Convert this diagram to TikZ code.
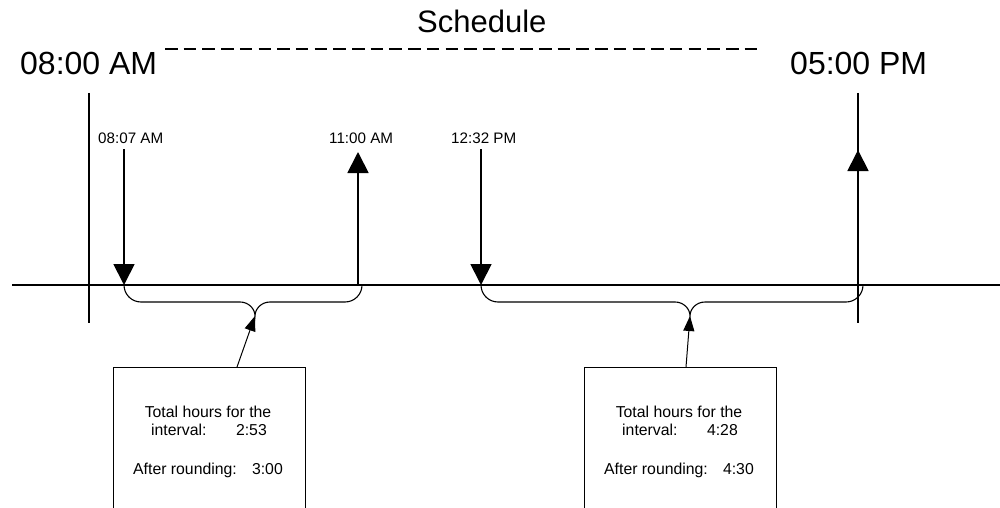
\documentclass[tikz,border=0pt]{standalone}
\usepackage{fontspec}
\setmainfont{Liberation Sans}
\usetikzlibrary{arrows.meta}
\tikzset{
  lbl/.style={inner sep=0pt, anchor=base west, font=\fontsize{15.2}{18}\selectfont},
  big/.style={inner sep=0pt, anchor=base west, font=\fontsize{32}{36}\selectfont},
  boxtxt/.style={inner sep=0pt, font=\fontsize{15.8}{18}\selectfont},
  axis/.style={line width=2.6pt},
  bound/.style={line width=1.8pt},
  tick/.style={line width=1.8pt, -{Triangle[width=21pt,length=21pt]}},
  brace/.style={line width=1.1pt},
  info/.style={line width=1pt, -{Triangle[width=11pt,length=15pt]}},
  infobox/.style={draw, line width=1pt, minimum width=192pt, minimum height=160pt, anchor=north, inner sep=0pt},
  dashline/.style={line width=1.5pt, dash pattern=on 12.5pt off 6.2pt}
}
\begin{document}
\begin{tikzpicture}[x=1pt,y=-1pt]
\useasboundingbox[fill=white] (0,0) rectangle (1000,508);

% title and day limits
\node[big, font=\fontsize{31}{36}\selectfont] (title) at (417,33) {Schedule};
\node[big] (start) at (20,75) {08:00 AM};
\node[big] (end) at (790,75) {05:00 PM};
\coordinate (dl) at (165,49);
\coordinate (dr) at (757,49);
\draw[dashline] (dl) -- (dr);

% axis
\coordinate (axl) at (12,285);
\coordinate (axr) at (1000,285);
\draw[axis] (axl) -- (axr);

% day boundary lines
\coordinate (b1t) at (89,93);
\coordinate (b1b) at (89,323);
\coordinate (b2t) at (858,93);
\coordinate (b2b) at (858,323);
\draw[bound] (b1t) -- (b1b);
\draw[bound] (b2t) -- (b2b);

% time labels
\node[lbl] (l1) at (98,143) {08:07 AM};
\node[lbl] (l2) at (329,143) {11:00 AM};
\node[lbl] (l3) at (451,143) {12:32 PM};

\coordinate (t1) at (124,285);
\coordinate (t2) at (358,285);
\coordinate (t2e) at (358,152);
\coordinate (t3) at (481,285);
\coordinate (t4) at (858,285);
\coordinate (t4e) at (858,150);

\draw[tick] ([yshift=-6pt]l1.south -| t1) -- (t1);
\draw[tick] (t2) -- (t2e);
\draw[tick] ([yshift=-6pt]l3.south -| t3) -- (t3);
\draw[tick] (t4) -- (t4e);

% braces
\coordinate (m1) at (255,316);
\coordinate (m2) at (690,316);
\draw[brace] (t1) .. controls (124,294.4) and (131.6,302) .. (141,302) -- (240,302)
  .. controls (248.3,302) and (255,308.5) .. (m1)
  .. controls (255,308.5) and (261.7,302) .. (270,302)
  -- (345,302) .. controls (354.4,302) and (362,294.4) .. (362,285);
\draw[brace] (t3) .. controls (481,294.4) and (488.6,302) .. (498,302) -- (675,302)
  .. controls (683.3,302) and (690,308.5) .. (m2)
  .. controls (690,308.5) and (696.7,302) .. (705,302)
  -- (846,302) .. controls (855.4,302) and (863,294.4) .. (863,285);

% info boxes
\node[infobox] (box1) at (209,367) {};
\node[infobox] (box2) at (680,367) {};

\node[boxtxt, anchor=base] (a1) at (208,417) {Total hours for the};
\node[boxtxt, anchor=base west] (a2) at (151,435) {interval:};
\node[boxtxt, anchor=base east] (a3) at (267,435) {2:53};
\node[boxtxt, anchor=base west] (a4) at (133,474) {After rounding:};
\node[boxtxt, anchor=base east] (a5) at (283,474) {3:00};

\node[boxtxt, anchor=base] (c1) at (679,417) {Total hours for the};
\node[boxtxt, anchor=base west] (c2) at (622,435) {interval:};
\node[boxtxt, anchor=base east] (c3) at (738,435) {4:28};
\node[boxtxt, anchor=base west] (c4) at (604,474) {After rounding:};
\node[boxtxt, anchor=base east] (c5) at (754,474) {4:30};

\draw[info] (box1.north -| 237,0) -- (m1);
\draw[info] (box2.north -| 686,0) -- (m2);
\end{tikzpicture}
\end{document}
